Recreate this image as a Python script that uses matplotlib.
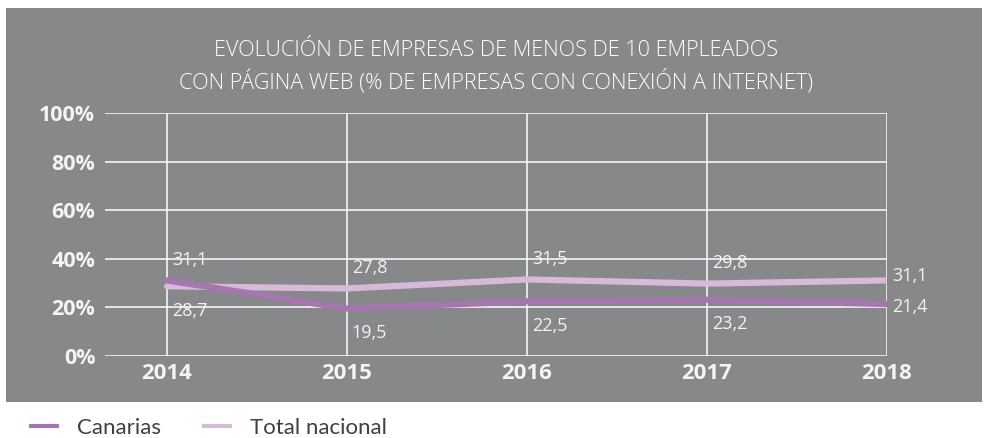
import matplotlib.pyplot as plt
from matplotlib.patches import Rectangle
from matplotlib.lines import Line2D

anios = [2014, 2015, 2016, 2017, 2018]
canarias = [31.1, 19.5, 22.5, 23.2, 21.4]
total_nacional = [28.7, 27.8, 31.5, 29.8, 31.1]
etiquetas_y = ['0%', '20%', '40%', '60%', '80%', '100%']

titulo = ('EVOLUCIÓN DE EMPRESAS DE MENOS DE 10 EMPLEADOS\n'
          'CON PÁGINA WEB (% DE EMPRESAS CON CONEXIÓN A INTERNET)')

GRIS = '#87888a'
COLOR_CAN = '#a676b0'
COLOR_TOT = '#d7bad9'
BLANCO = '#f4f4f4'

fig = plt.figure(figsize=(9.88, 4.38), dpi=100)
fig.patch.set_facecolor('white')

# panel gris de fondo
fig.patches.append(Rectangle((6/988, 1-402/438), 976/988, 394/438,
                             transform=fig.transFigure, facecolor=GRIS,
                             edgecolor='none', zorder=-1))

fig.text(496/988, 1-66.5/438, titulo, ha='center', va='center', color='white',
         fontsize=15.6, family='Open Sans', fontweight='light', linespacing=1.4)

ax = fig.add_axes([105/988, 1-356/438, 782/988, 243/438])
ax.set_zorder(2)
ax.set_facecolor(GRIS)
for s in ax.spines.values():
  s.set_visible(False)

ax.set_xlim(2018 - 782/180, 2018)
ax.set_ylim(0, 100)

# rejilla
for v in [0, 20, 40, 60, 80, 100]:
  ax.axhline(v, color='white', lw=1.1, zorder=1)
for a in anios:
  ax.axvline(a, color='white', lw=1.1, zorder=1)

ax.plot(anios, total_nacional, color=COLOR_TOT, lw=4.5, solid_capstyle='round', zorder=3)
ax.plot(anios, canarias, color=COLOR_CAN, lw=4.5, solid_capstyle='round', zorder=4)

for i, a in enumerate(anios):
  c, t = canarias[i], total_nacional[i]
  if i == len(anios) - 1:
    ax.annotate(f'{t}'.replace('.', ','), (a, t), xytext=(4, 3), textcoords='offset points',
                ha='left', va='center', color=BLANCO, fontsize=13, family='Open Sans', zorder=5)
    ax.annotate(f'{c}'.replace('.', ','), (a, c), xytext=(4, -2), textcoords='offset points',
                ha='left', va='center', color=BLANCO, fontsize=13, family='Open Sans', zorder=5)
    continue
  alto, bajo = max(c, t), min(c, t)
  ax.annotate(f'{alto}'.replace('.', ','), (a, alto), xytext=(3.5, 14.5), textcoords='offset points',
              ha='left', va='center', color=BLANCO, fontsize=13, family='Open Sans', zorder=5)
  ax.annotate(f'{bajo}'.replace('.', ','), (a, bajo), xytext=(3.5, -17.5), textcoords='offset points',
              ha='left', va='center', color=BLANCO, fontsize=13, family='Open Sans', zorder=5)

ax.set_yticks([0, 20, 40, 60, 80, 100])
ax.set_yticklabels(etiquetas_y)
ax.set_xticks(anios)
ax.set_xticklabels([str(a) for a in anios])
ax.tick_params(axis='both', length=0, colors=BLANCO)
ax.tick_params(axis='y', pad=7)
ax.tick_params(axis='x', pad=5)
for lab in ax.get_yticklabels():
  lab.set_fontsize(15.5)
  lab.set_fontweight('bold')
  lab.set_family('Open Sans')
for lab in ax.get_xticklabels():
  lab.set_fontsize(16)
  lab.set_fontweight('bold')
  lab.set_family('Open Sans')

handles = [Line2D([], [], color=COLOR_CAN, lw=3, solid_capstyle='butt'),
           Line2D([], [], color=COLOR_TOT, lw=3, solid_capstyle='butt')]
fig.legend(handles, ['Canarias', 'Total nacional'], loc='center left',
           bbox_to_anchor=(29/988, 1-428/438), ncol=2, frameon=False,
           handlelength=1.35, handletextpad=0.8, columnspacing=1.85, borderpad=0,
           borderaxespad=0, prop={'family': 'Lato', 'size': 16}, labelcolor='#404040')

plt.savefig('out.png', dpi=100)
